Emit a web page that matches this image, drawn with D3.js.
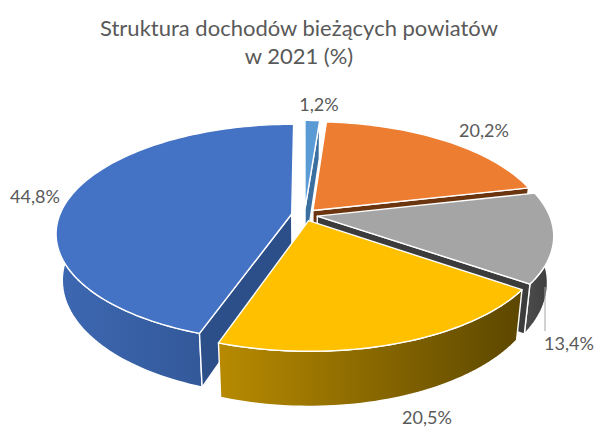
<!DOCTYPE html>
<html><head><meta charset="utf-8">
<script src="https://cdn.jsdelivr.net/npm/d3@7"></script>
<style>html,body{margin:0;background:#fff}svg{display:block}text{font-family:Lato,"Open Sans",sans-serif;fill:#595959}</style>
</head><body><svg id="c" width="598" height="427"></svg>
<script>
const titleLines = ["Struktura dochodów bieżących powiatów", "w 2021 (%)"];
const labels = ["1,2%", "20,2%", "13,4%", "20,5%", "44,8%"];
const values = [1.2, 20.2, 13.4, 20.5, 44.8];
const topColors = ["#5b9bd5", "#ed7d31", "#a5a5a5", "#ffc000", "#4472c4"];
const wallLight = ["#4a83b8", "#8c4a1c", "#4a4a4a", "#b78a00", "#3d68b2"];
const wallDark = ["#3a6f9f", "#6b3510", "#3c3c3c", "#5c4700", "#2c4f8a"];
const explode = [0.06, 0.056, 0.056, 0.056, 0.056];
const paintOrder = [0, 1, 4, 2, 3];
const labelAnchor = [[319, 111], [484, 137], [569, 350], [427, 424], [35, 203]];

const cx = 304.5, cy = 215, R = 232, Ry = 105.7, k = 0.174, depth = 45, shrink = 0.975;
const svg = d3.select("#c");
const defs = svg.append("defs");
const pie = d3.pie().sort(null).value(d => d).startAngle(0).endAngle(2 * Math.PI);
const arcs = pie(values);

// disc coordinates -> screen, with perspective
function proj(u, v, low) {
  const s = 1 / (1 - k * v);
  const m = low ? shrink : 1;
  return [cx + u * R * s * m, cy + v * Ry * s + (low ? depth * s : 0)];
}
const line = d3.line();
function slicePts(a, i) {
  const mid = (a.startAngle + a.endAngle) / 2, e = explode[i];
  const ox = e * Math.sin(mid), oy = -e * Math.cos(mid);
  const n = Math.max(4, Math.ceil((a.endAngle - a.startAngle) * 40));
  const angs = d3.range(n + 1).map(t => a.startAngle + (a.endAngle - a.startAngle) * t / n);
  const at = t => [ox + Math.sin(t), oy - Math.cos(t)];
  return { c: [ox, oy], rim: angs.map(at), front: angs.filter(t => Math.cos(t) < 0.02).map(at) };
}
const g = svg.append("g");
paintOrder.forEach(i => {
  const a = arcs[i];
  const { c, rim, front } = slicePts(a, i);
  const top = p => proj(p[0], p[1], false), low = p => proj(p[0], p[1], true);
  const face = (pts, fill) => g.append("path").attr("d", line(pts) + "Z").attr("fill", fill)
    .attr("stroke", "#fff").attr("stroke-width", 1.4).attr("stroke-linejoin", "round");
  // rounded outer wall: only the part that faces the viewer
  if (front.length > 1) {
    const xs = rim.map(p => top(p)[0]);
    const id = "w" + i;
    const gr = defs.append("linearGradient").attr("id", id).attr("gradientUnits", "userSpaceOnUse")
      .attr("x1", d3.min(xs)).attr("x2", d3.max(xs)).attr("y1", 0).attr("y2", 0);
    gr.append("stop").attr("offset", 0).attr("stop-color", wallLight[i]);
    gr.append("stop").attr("offset", 1).attr("stop-color", wallDark[i]);
    face(front.map(top).concat(front.slice().reverse().map(low)), `url(#${id})`);
  }
  // radial cut walls: only those that face the viewer
  const first = rim[0], last = rim[rim.length - 1];
  if (Math.sin(a.startAngle) < -0.01) face([top(c), top(first), low(first), low(c)], wallDark[i]);
  if (Math.sin(a.endAngle) > 0.01) face([top(c), top(last), low(last), low(c)], wallDark[i]);
  face([top(c)].concat(rim.map(top)), topColors[i]);
});

// leader line of the grey slice
const leadBase = labelAnchor[2];
svg.append("line").attr("x1", leadBase[0] - 24).attr("x2", leadBase[0] - 24)
  .attr("y1", leadBase[1] - 63).attr("y2", leadBase[1] - 19)
  .attr("stroke", "#a6a6a6").attr("stroke-width", 1);

svg.selectAll(".lab").data(labels).join("text").attr("class", "lab")
  .attr("x", (d, i) => labelAnchor[i][0]).attr("y", (d, i) => labelAnchor[i][1])
  .attr("text-anchor", "middle").attr("font-size", 18).text(d => d);

svg.selectAll(".ttl").data(titleLines).join("text").attr("class", "ttl")
  .attr("x", 299).attr("y", (d, i) => 36 + i * 28)
  .attr("text-anchor", "middle").attr("font-size", 22).text(d => d);
</script></body></html>
